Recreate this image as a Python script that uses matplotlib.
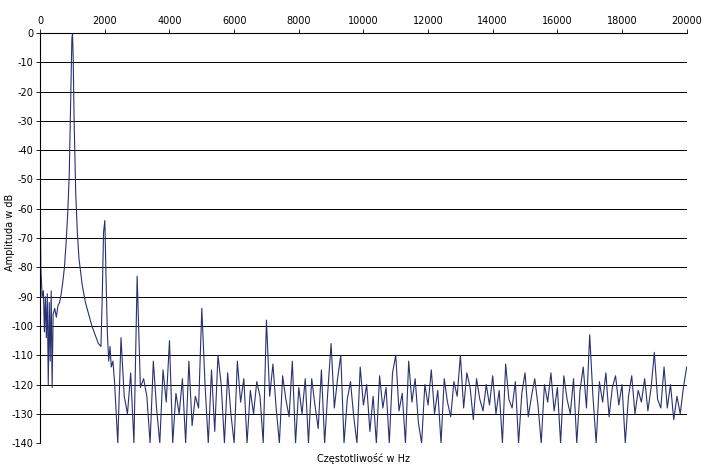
import numpy as np
import matplotlib
matplotlib.use("Agg")
import matplotlib.pyplot as plt
plt.rcParams['axes.unicode_minus'] = False

peak_freq = [0, 20, 60, 100, 130, 160, 190, 220, 250, 280, 310, 340, 370, 400, 450, 500, 550, 600, 650,
             700, 750, 800, 850, 900, 950, 980, 1000, 1020, 1050, 1100, 1150, 1200, 1300, 1400, 1500,
             1600, 1700, 1800, 1880, 1920, 1960, 2000, 2040, 2080, 2120, 2160, 2200, 2250]
peak_db = [-55, -80, -90, -88, -102, -90, -104, -89, -120, -92, -112, -88, -121, -96, -94, -97, -93, -92, -89,
           -85, -80, -72, -62, -48, -20, -2, 0, -8, -30, -55, -68, -77, -86, -92, -96,
           -100, -103, -106, -107, -90, -68, -64, -85, -103, -112, -107, -114, -112]

noise_start = 2300
noise_step = 100
noise_db = [
    -119, -140, -104, -124, -130, -116, -140, -83, -121, -118,   # 2300-3200
    -124, -140, -112, -128, -140, -115, -126, -105, -140, -123,  # 3300-4200
    -130, -118, -140, -112, -134, -124, -128, -94, -120, -140,   # 4300-5200
    -115, -136, -110, -120, -140, -116, -130, -140, -112, -126,  # 5300-6200
    -118, -140, -122, -130, -119, -124, -140, -98, -124, -113,   # 6300-7200
    -128, -140, -117, -125, -131, -112, -140, -121, -130, -118,  # 7300-8200
    -140, -118, -127, -135, -115, -140, -122, -106, -128, -118,  # 8300-9200
    -110, -140, -125, -119, -131, -140, -114, -127, -120, -136,  # 9300-10200
    -124, -140, -117, -128, -121, -140, -116, -110, -129, -123,  # 10300-11200
    -140, -112, -126, -118, -133, -140, -120, -127, -115, -130,  # 11300-12200
    -122, -140, -118, -126, -131, -119, -124, -110, -128, -116,  # 12300-13200
    -121, -132, -118, -125, -129, -120, -127, -117, -130, -122,  # 13300-14200
    -140, -113, -125, -128, -119, -140, -123, -116, -131, -124,  # 14300-15200
    -118, -127, -140, -120, -126, -116, -129, -121, -140, -117,  # 15300-16200
    -125, -130, -118, -140, -122, -114, -128, -103, -124, -140,  # 16300-17200
    -119, -126, -116, -131, -121, -117, -127, -120, -140, -124,  # 17300-18200
    -117, -130, -122, -126, -118, -129, -121, -109, -125, -128,  # 18300-19200
    -114, -128, -120, -132, -124, -130, -121, -114               # 19300-20000
]
noise_freq = noise_start + noise_step * np.arange(len(noise_db))

freq = list(peak_freq) + list(noise_freq)
db = list(peak_db) + list(noise_db)

fig = plt.figure(figsize=(7.05, 4.65), dpi=100)
ax = fig.add_axes([0.057, 0.047, 0.917, 0.882])
ax.plot(freq, db, color="#2a3170", lw=0.8)
ax.set_xlim(0, 20000)
ax.set_ylim(-140, 0)
ax.set_xticks(np.arange(0, 20001, 2000))
ax.set_yticks(np.arange(-140, 1, 10))
ax.xaxis.tick_top()
ax.tick_params(labelsize=7, length=3, width=0.6, pad=2)
ax.yaxis.grid(True, color="black", lw=0.7)
for s in ["right", "bottom"]:
    ax.spines[s].set_visible(False)
ax.spines["top"].set_linewidth(0.8)
ax.spines["left"].set_linewidth(0.8)
fig.text(0.014, 0.5, "Amplituda w dB", rotation=90, ha="center", va="center", fontsize=7)
ax.text(0.5, -0.025, "Częstotliwość w Hz", transform=ax.transAxes, ha="center", va="top", fontsize=7)
fig.savefig("out.png", dpi=100)
